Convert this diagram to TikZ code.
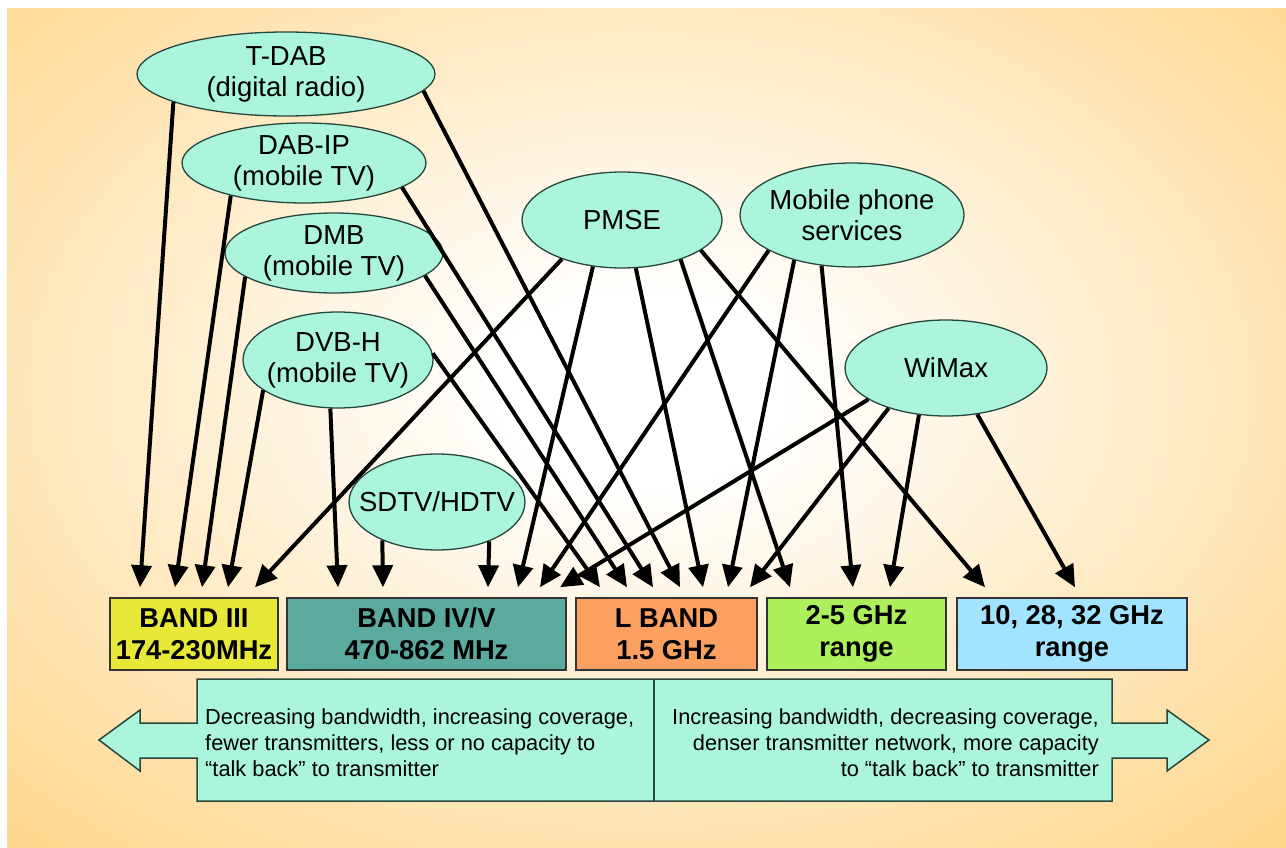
\documentclass[tikz,border=0pt]{standalone}
\usepackage{fontspec}
\setmainfont{Liberation Sans}
\usetikzlibrary{arrows.meta,shapes.geometric}
\definecolor{bgor}{RGB}{254,210,128}
\definecolor{aqua}{RGB}{170,245,220}
\definecolor{edgec}{RGB}{40,70,60}
\definecolor{yel}{RGB}{232,232,56}
\definecolor{tealb}{RGB}{91,170,160}
\definecolor{lor}{RGB}{252,160,98}
\definecolor{limeb}{RGB}{172,240,92}
\definecolor{skyb}{RGB}{162,228,255}
\pgfdeclareradialshading{bgsh}{\pgfpoint{0bp}{0bp}}{color(0bp)=(white); color(5bp)=(white); color(36bp)=(bgor); color(100bp)=(bgor)}
\begin{document}
\begin{tikzpicture}[x=1pt,y=-1pt,
  ell/.style={ellipse, draw=edgec, line width=1.3pt, fill=aqua, inner sep=0pt},
  etxt/.style={font=\fontsize{27.5}{31}\selectfont, align=center, inner sep=0pt},
  band/.style={rectangle, draw=black!80, line width=1.5pt, inner sep=0pt, minimum height=72pt, align=center, font=\fontsize{27.3}{32}\selectfont\bfseries},
  conn/.style={line width=4pt, -{Triangle[length=22pt,width=20pt]}},
  note/.style={font=\fontsize{21.8}{26}\selectfont, inner sep=0pt}
]
\useasboundingbox (0,0) rectangle (1286,848);
\fill[white] (0,0) rectangle (1286,848);
\begin{scope}
  \clip (7,9) rectangle (1286,848);
  \shade[shading=bgsh] (-60,-80) rectangle (1340,860);
\end{scope}

% frequency bands
\node[band, fill=yel,   minimum width=168pt] (b3)  at (194,634)   {BAND III\\174-230MHz};
\node[band, fill=tealb, minimum width=279pt] (b45) at (426.5,634) {BAND IV/V\\470-862 MHz};
\node[band, fill=lor,   minimum width=181pt] (bl)  at (666.5,634) {L BAND\\1.5 GHz};
\node[band, fill=limeb, minimum width=179pt] (b25) at (856.5,634) {2-5 GHz\\range};
\node[band, fill=skyb,  minimum width=230pt] (b10) at (1072,634)  {10, 28, 32 GHz\\range};

% services
\node[ell, minimum width=298pt, minimum height=84pt, label={[etxt]center:{T-DAB\\(digital radio)}}] (tdab) at (286,74) {};
\node[ell, minimum width=244pt, minimum height=80pt, label={[etxt]center:{DAB-IP\\(mobile TV)}}] (dabip) at (304,163) {};
\node[ell, minimum width=218pt, minimum height=80pt, label={[etxt]center:{DMB\\(mobile TV)}}] (dmb) at (334,253) {};
\node[ell, minimum width=190pt, minimum height=96pt, label={[etxt]center:{DVB-H\\(mobile TV)}}] (dvbh) at (338,360) {};
\node[ell, minimum width=176pt, minimum height=96pt, label={[etxt]center:{SDTV/HDTV}}] (sdtv) at (437,502) {};
\node[ell, minimum width=200pt, minimum height=96pt, label={[etxt]center:{PMSE}}] (pmse) at (622,220) {};
\node[ell, minimum width=224pt, minimum height=104pt, label={[etxt]center:{Mobile phone\\services}}] (mob) at (852,215) {};
\node[ell, minimum width=202pt, minimum height=96pt, label={[etxt]center:{WiMax}}] (wimax) at (946,368) {};

% connectors to BAND III
\draw[conn] (tdab.-166) -- ([xshift=-54pt,yshift=10pt]b3.north);
\draw[conn] (dabip.-156) -- ([xshift=-19pt,yshift=10pt]b3.north);
\draw[conn] (dmb.-165) -- ([xshift=8pt,yshift=10pt]b3.north);
\draw[conn] (dvbh.-158) -- ([xshift=34pt,yshift=10pt]b3.north);
\draw[conn] (pmse.-147) -- ([xshift=61pt,yshift=10pt]b3.north);
% to BAND IV/V
\draw[conn] (dvbh.-99.5) -- ([xshift=-88.5pt,yshift=10pt]b45.north);
\draw[conn] (sdtv.-145) -- ([xshift=-43.5pt,yshift=10pt]b45.north);
\draw[conn] (sdtv.-37) -- ([xshift=61.5pt,yshift=10pt]b45.north);
\draw[conn] (pmse.-122.5) -- ([xshift=91.5pt,yshift=10pt]b45.north);
\draw[conn] (mob.-157.6) -- ([xshift=113.5pt,yshift=10pt]b45.north);
\draw[conn] (wimax.-158.5) -- ([xshift=133.5pt,yshift=10pt]b45.north);
% to L BAND
\draw[conn] (dvbh.4) -- ([xshift=-66.5pt,yshift=10pt]bl.north);
\draw[conn] (dmb.-14.3) -- ([xshift=-39.5pt,yshift=10pt]bl.north);
\draw[conn] (dabip.-14.3) -- ([xshift=-13.5pt,yshift=10pt]bl.north);
\draw[conn] (tdab.-7.7) -- ([xshift=13.5pt,yshift=10pt]bl.north);
\draw[conn] (pmse.-74.5) -- ([xshift=36.5pt,yshift=10pt]bl.north);
\draw[conn] (mob.-142.7) -- ([xshift=61.5pt,yshift=10pt]bl.north);
\draw[conn] (wimax.-145.4) -- ([xshift=83.5pt,yshift=10pt]bl.north);
% to 2-5 GHz
\draw[conn] (pmse.-34.6) -- ([xshift=-66.5pt,yshift=10pt]b25.north);
\draw[conn] (mob.-121.6) -- ([xshift=-3.5pt,yshift=10pt]b25.north);
\draw[conn] (wimax.-120.6) -- ([xshift=33.5pt,yshift=10pt]b25.north);
% to 10, 28, 32 GHz
\draw[conn] (pmse.-21) -- ([xshift=-87pt,yshift=10pt]b10.north);
\draw[conn] (wimax.-56.6) -- ([xshift=3pt,yshift=10pt]b10.north);

% double arrow
\draw[fill=aqua, draw=edgec, line width=1.5pt, line join=miter]
  (197,679) -- (1112,679) -- (1112,723) -- (1167,723) -- (1167,710) -- (1209,740)
  -- (1167,771) -- (1167,758) -- (1112,758) -- (1112,801) -- (197,801) -- (197,758)
  -- (140,758) -- (140,771) -- (99,740) -- (140,710) -- (140,723) -- (197,723) -- cycle;
\draw[edgec, line width=1.5pt] (654,679) -- (654,801);
\node[note, anchor=west, align=left] (ltxt) at (205,743)
  {Decreasing bandwidth, increasing coverage,\\fewer transmitters, less or no capacity to\\“talk back” to transmitter};
\node[note, anchor=east, align=right] (rtxt) at (1099,743)
  {Increasing bandwidth, decreasing coverage,\\denser transmitter network, more capacity\\to “talk back” to transmitter};
\end{tikzpicture}
\end{document}
